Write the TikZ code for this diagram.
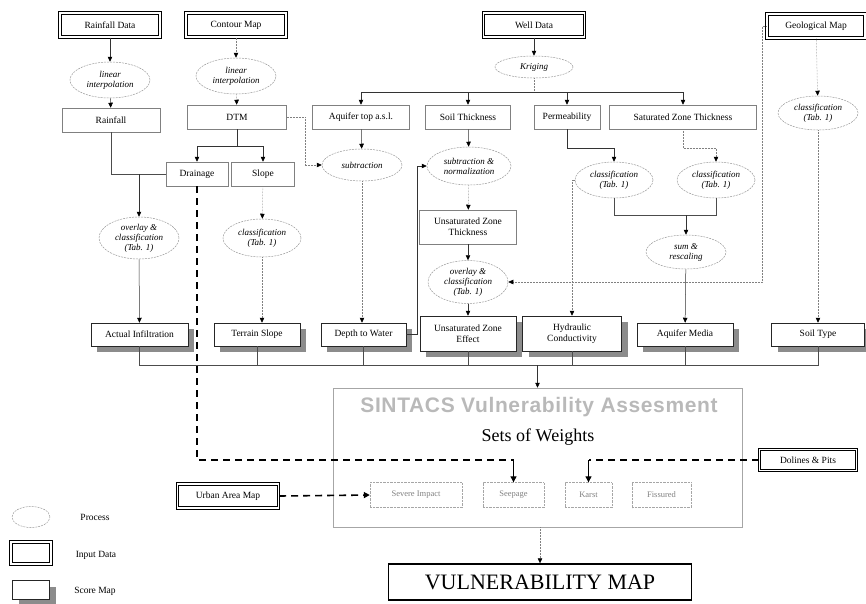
\documentclass[tikz,border=0pt]{standalone}
\usepackage{fontspec}
\setmainfont{Liberation Serif}
\newfontfamily\headfont[LetterSpace=3]{Liberation Sans}
\usetikzlibrary{arrows.meta,shapes.geometric}

\begin{document}
\begin{tikzpicture}[x=1pt,y=1pt,yscale=-1,xscale=1,
  inbox/.style={draw=black,line width=1.1pt,double=white,double distance=1.3pt,minimum height=24pt,inner sep=1pt,font=\fontsize{9.5}{10}\selectfont},
  pbox/.style={draw=gray,line width=0.5pt,minimum height=24pt,inner sep=1pt,align=center,font=\fontsize{9.5}{11}\selectfont},
  score/.style={draw=black!85,line width=0.5pt,fill=white,minimum height=23pt,inner sep=1pt,align=center,font=\fontsize{9.5}{11}\selectfont},
  shadowfill/.style={fill=black!45},
  proc/.style={ellipse,draw=gray!80,line width=0.5pt,dash pattern=on 2pt off 1pt,inner sep=0pt,minimum width=80pt,minimum height=36pt,align=center,font=\itshape\fontsize{9}{10}\selectfont},
  wbox/.style={draw=gray!70,densely dotted,text=gray,minimum height=25pt,inner sep=1pt,font=\fontsize{8.5}{10}\selectfont},
  link/.style={draw=black!80,line width=0.5pt,-{Triangle[length=5pt,width=4.5pt,color=black]}},
  dlink/.style={draw=gray,line width=0.5pt,densely dotted,-{Triangle[length=5pt,width=4.5pt,color=black]}},
  wire/.style={draw=black!70,line width=0.5pt},
  dwire/.style={draw=gray,line width=0.5pt,densely dotted},
  bdash/.style={draw=black,line width=1.6pt,dash pattern=on 7pt off 5pt},
  barrow/.style={draw=black,line width=1.2pt,-{Triangle[length=6pt,width=6pt]}},
  lgtext/.style={font=\fontsize{9.5}{11}\selectfont}
]
\useasboundingbox (0,0) rectangle (866,603);

%Shape: Input Data
\draw (110,25) node [inbox,minimum width=100pt] (rfdata) {Rainfall Data};
\draw (236,25) node [inbox,minimum width=100pt] (cmap) {Contour Map};
\draw (534,25) node [inbox,minimum width=101pt] (wdata) {Well Data};
\draw (816,26) node [inbox,minimum width=98pt] (gmap) {Geological Map};
\draw (228,496) node [inbox,minimum width=101pt] (urban) {Urban Area Map};
\draw (808,460) node [inbox,minimum width=97pt,minimum height=21pt] (doline) {Dolines \& Pits};

%Shape: Ellipse (processes)
\draw (110,80) node [proc] (li1) {linear\\interpolation};
\draw (236,76) node [proc] (li2) {linear\\interpolation};
\draw (534,67) node [proc,minimum width=78pt,minimum height=22pt] (krig) {Kriging};
\draw (818,113) node [proc,minimum height=34pt] (clsgeo) {classification\\(Tab. 1)};
\draw (362,165) node [proc,minimum height=32pt] (sub) {subtraction};
\draw (469,166) node [proc,minimum width=84pt,minimum height=38pt] (subn) {subtraction \&\\normalization};
\draw (614,180) node [proc,minimum width=78pt] (cls1) {classification\\(Tab. 1)};
\draw (716,180) node [proc,minimum width=78pt] (cls2) {classification\\(Tab. 1)};
\draw (139,238) node [proc,minimum height=42pt] (ovl1) {overlay \&\\classification\\(Tab. 1)};
\draw (262,238) node [proc,minimum width=78pt,minimum height=38pt] (clssl) {classification\\(Tab. 1)};
\draw (468,282) node [proc,minimum height=43pt] (ovl2) {overlay \&\\classification\\(Tab. 1)};
\draw (686,252) node [proc,minimum height=34pt] (sumr) {sum \&\\rescaling};

%Shape: Rectangle (intermediate maps)
\draw (111,120) node [pbox,minimum width=98pt] (rain) {Rainfall};
\draw (237,117) node [pbox,minimum width=99pt] (dtm) {DTM};
\draw (361,117) node [pbox,minimum width=97pt] (aqtop) {Aquifer top a.s.l.};
\draw (468,117) node [pbox,minimum width=85pt] (soilt) {Soil Thickness};
\draw (567,117) node [pbox,minimum width=66pt] (perm) {Permeability};
\draw (683,117) node [pbox,minimum width=147pt] (satz) {Saturated Zone Thickness};
\draw (197,174) node [pbox,minimum width=62pt] (drain) {Drainage};
\draw (263,174) node [pbox,minimum width=63pt] (slope) {Slope};
\draw (468,227) node [pbox,minimum width=97pt,minimum height=34pt] (uzt) {Unsaturated Zone\\Thickness};

%Shape: Shadows of the score maps
\fill [shadowfill] (97,329) rectangle (194,352);
\fill [shadowfill] (220,329) rectangle (306,352);
\fill [shadowfill] (327,329) rectangle (412,352);
\fill [shadowfill] (426,322) rectangle (522,357);
\fill [shadowfill] (528.5,322) rectangle (627.5,357);
\fill [shadowfill] (643,329) rectangle (739,352);
\fill [shadowfill] (777.5,329) rectangle (870.5,352);
\fill [shadowfill] (18.5,586.5) rectangle (55.5,605.5);

%Shape: Score maps
\draw (139.5,334.5) node [score,minimum width=97pt] (ainf) {Actual Infiltration};
\draw (257,334.5) node [score,minimum width=86pt] (tslope) {Terrain Slope};
\draw (363.5,334.5) node [score,minimum width=85pt] (dwat) {Depth to Water};
\draw (468,333.5) node [score,minimum width=96pt,minimum height=35pt] (uze) {Unsaturated Zone\\Effect};
\draw (572,333.5) node [score,minimum width=99pt,minimum height=35pt] (hydc) {Hydraulic\\Conductivity};
\draw (685,334.5) node [score,minimum width=96pt] (aqmed) {Aquifer Media};
\draw (818,334.5) node [score,minimum width=93pt] (stype) {Soil Type};

%Shape: Assessment frame
\draw (537.5,457.5) node [draw=gray!70,line width=0.5pt,minimum width=409pt,minimum height=139pt] (sint) {};
% Text Node
\draw (539,407) node [font=\headfont\bfseries\fontsize{21}{24}\selectfont,text=gray!55] (ttl) {SINTACS Vulnerability Assesment};
% Text Node
\draw (538,437) node [font=\fontsize{18}{20}\selectfont] (sow) {Sets of Weights};
\draw (416,495) node [wbox,minimum width=92pt] (simp) {Severe Impact};
\draw (513.5,495) node [wbox,minimum width=61pt] (seep) {Seepage};
\draw (588.5,495) node [wbox,minimum width=47pt] (karst) {Karst};
\draw (661.5,495) node [wbox,minimum width=59pt] (fiss) {Fissured};

%Shape: Result
\draw (540,582) node [draw=black,line width=1.4pt,minimum width=303pt,minimum height=36pt,font=\fontsize{22}{24}\selectfont] (vmap) {VULNERABILITY MAP};

%Legend
\draw (31,517) node [proc,minimum width=38pt,minimum height=21pt] (lgproc) {};
\draw (95,517) node [lgtext] (lgproct) {Process};
\draw (31,553) node [inbox,minimum width=40pt,minimum height=22pt] (lgin) {};
\draw (96,555) node [lgtext] (lgint) {Input Data};
\draw (31,590) node [score,minimum width=37pt,minimum height=19pt] (lgscore) {};
\draw (95,591) node [lgtext] (lgscoret) {Score Map};

%Straight Lines: rainfall
\draw [link] (rfdata) -- (li1);
\draw [link] (li1) -- (rain);
\draw [wire] (rain.south) |- (drain.west);
\draw [link] (ovl1.north |- drain.west) -- (ovl1.north);
\draw [link] (ovl1) -- (ainf);

%Straight Lines: contour map
\draw [dlink] (cmap) -- (li2);
\draw [dlink] (li2) -- (dtm);
\draw [link] (dtm.south) -- ++(0,17) -| (drain.north);
\draw [link] (dtm.south) ++(0,17) -| (slope.north);
\draw [dlink] (dtm.east) -- ++(18,0) |- (sub.west);
\draw [dlink] (slope) -- (clssl);
\draw [dlink] (clssl) -- (tslope.north -| clssl.south);

%Straight Lines: well data
\draw [link] (wdata) -- (krig);
\draw [dwire] (krig.south) -- ++(0,14) coordinate (kb);
\draw [link] (kb) -| (aqtop.north);
\draw [link] (kb) -| (satz.north);
\draw [link] (kb -| soilt.north) -- (soilt.north);
\draw [link] (kb -| perm.north) -- (perm.north);
\draw [link] (aqtop) -- (sub);
\draw [dlink] (sub) -- (dwat.north -| sub.south);
\draw [link] (soilt) -- (subn);
\draw [dlink] (subn) -- (uzt);
\draw [link] (uzt) -- (ovl2);
\draw [link] (ovl2) -- (uze);
\draw [link] (dwat.east) -- ++(11,0) |- (subn.west);
\draw [link] (perm.south) -- ++(0,19) -| (cls1.north);
\draw [dlink] (satz.south) -- ++(0,19) -| (cls2.north);
\draw [wire] (cls1.south) -- ++(0,17) coordinate (cj) -| (cls2.south);
\draw [link] (cj -| sumr.north) -- (sumr.north);
\draw [link] (sumr) -- (aqmed);
\draw [dlink] (cls1.west) -| (hydc.north);

%Straight Lines: geological map
\draw [dlink] (gmap.west) -- ++(-4,0) |- (ovl2.east);
\draw [dlink] (gmap) -- (clsgeo);
\draw [dlink] (clsgeo) -- (stype);

%Straight Lines: score maps to assessment
\draw [wire] (ainf.south) -- ++(0,19) coordinate (bus) -| (stype.south);
\draw [wire] (tslope.south) -- (tslope.south |- bus);
\draw [wire] (dwat.south) -- (dwat.south |- bus);
\draw [wire] (uze.south) -- (uze.south |- bus);
\draw [wire] (hydc.south) -- (hydc.south |- bus);
\draw [wire] (aqmed.south) -- (aqmed.south |- bus);
\draw [link] (sint.north |- bus) -- (sint.north);
\draw [dlink] (sint.south -| vmap.north) -- (vmap.north);

%Straight Lines: weight sets (dashed)
\draw [bdash] (drain.south) -- ++(0,274) coordinate (dr) -- (dr -| seep.north);
\draw [barrow] (dr -| seep.north) -- (seep.north);
\draw [bdash,-{Triangle[length=6pt,width=6pt]}] (urban.east) -- (simp.west);
\draw [bdash] (doline.west) -- (doline.west -| karst.north);
\draw [barrow] (doline.west -| karst.north) -- (karst.north);

\end{tikzpicture}
\end{document}
